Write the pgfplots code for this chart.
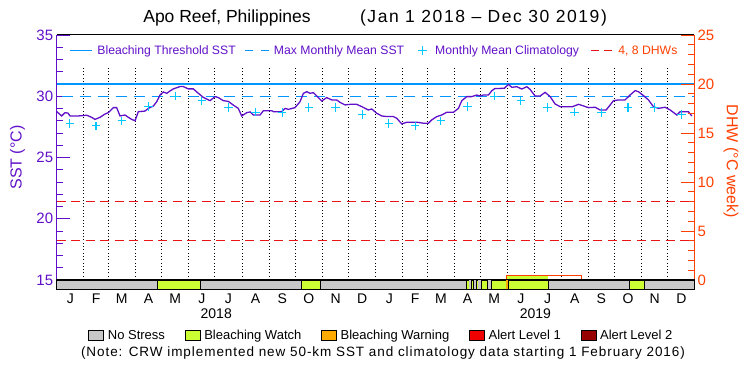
\documentclass[border=0pt]{standalone}
\usepackage{pgfplots}
\pgfplotsset{compat=1.18}
\usepackage{fontspec}
\setmainfont{Liberation Sans}
\definecolor{purp}{RGB}{96,16,200}
\definecolor{thr}{RGB}{0,150,255}
\definecolor{clim}{RGB}{0,200,255}
\definecolor{dhwred}{RGB}{235,20,20}
\definecolor{dhwc}{RGB}{255,64,0}
\definecolor{nostress}{RGB}{200,200,200}
\definecolor{watch}{RGB}{204,255,51}
\definecolor{warning}{RGB}{255,170,0}
\definecolor{alertone}{RGB}{240,0,0}
\definecolor{alerttwo}{RGB}{150,0,0}
\newcommand{\fs}[1]{\fontsize{#1}{#1}\selectfont}
\begin{document}
\begin{tikzpicture}[x=1pt,y=1pt]
\path[use as bounding box] (0,0) rectangle (750,375);
\node[anchor=center, inner sep=0pt, font=\fs{17.5}] at (227,357) {Apo Reef, Philippines};
\node[anchor=center, inner sep=0pt, font=\fs{17.5}\addfontfeature{LetterSpace=9}] at (483.5,357) {(Jan 1 2018 – Dec 30 2019)};
\node[anchor=center, inner sep=0pt, font=\fs{13.5}\addfontfeature{LetterSpace=7}] at (383,22) {(Note: CRW implemented new 50-km SST and climatology data starting 1 February 2016)};

% ---------------- main SST axis
\begin{axis}[
  at={(56.7pt,95pt)}, anchor=south west, scale only axis,
  width=637.3pt, height=245pt,
  xmin=0, xmax=729, ymin=15, ymax=35,
  xtick=\empty,
  ytick={15,20,25,30,35}, minor y tick num=4, ytick pos=left,
  tick align=inside, major tick length=13pt, minor tick length=6.5pt,
  separate axis lines,
  x axis line style={draw=black, line width=1pt},
  y axis line style={draw=purp, line width=1pt},
  ytick style={draw=purp, line width=0.9pt},
  minor y tick style={draw=purp, line width=0.9pt},
  yticklabel style={text=purp, font=\fs{15}},
  /pgf/number format/assume math mode=true,
  ylabel={SST (°C)},
  ylabel style={text=purp, font=\fs{16}, at={(axis description cs:-0.0615,0.5)}, anchor=center},
  legend columns=3, legend cell align=left,
  legend style={at={(axis description cs:0.0201,0.936)}, anchor=west, draw=none, fill=none,
    inner sep=0pt, font=\fs{12.2}, text=purp,
    /tikz/column 1/.style={column sep=3pt},
    /tikz/column 2/.style={column sep=7pt},
    /tikz/column 3/.style={column sep=2pt},
    /tikz/column 4/.style={column sep=11.8pt},
    /tikz/column 5/.style={column sep=5.8pt}},
]
\pgfplotsinvokeforeach{31,59,90,120,151,181,212,243,273,304,334,365,396,424,455,485,516,546,577,608,638,669,699}{
  \addplot[forget plot, black, line width=0.9pt, dash pattern=on 0.9pt off 2.4pt] coordinates {(#1,15) (#1,32.5)};
}
\addplot[forget plot, thr, line width=1.2pt] coordinates {(0,31) (729,31)};
\addplot[forget plot, thr, line width=1.2pt, dash pattern=on 11pt off 7pt, dash phase=-5pt] coordinates {(0,30) (729,30)};
\addplot[forget plot, only marks, mark=+, clim, mark size=4.2pt, line width=1.1pt] coordinates {
(15,27.76) (45,27.58) (74.5,28.0) (105,29.17) (135.5,30.0) (166,29.62) (196.5,29.07) (227.5,28.69) (258,28.66) (288.5,29.08) (319,29.07) (349.5,28.5)
(380,27.76) (410,27.58) (439.5,28.0) (470,29.17) (500.5,30.0) (531,29.62) (561.5,29.07) (592.5,28.69) (623,28.66) (653.5,29.08) (684,29.07) (714.5,28.5)
};
\addplot[forget plot, purp, line width=1.3pt] coordinates {
(0,28.75) (5.7,28.39) (9.5,28.66) (13,28.62) (15.2,28.39) (24.7,28.39) (34.3,28.45) (40,28.28) (43.8,28.11) (49.5,28.28) (55.3,28.55) (59,28.66) (64.8,29.07) (68.6,29.07) (72.4,28.39) (78.1,28.47) (82,28.28) (85.8,28.11) (89.6,28.00) (93.4,28.74) (101,28.79) (104.8,29.01) (110.5,29.20) (114.4,29.55) (118.2,30.10) (122,30.35) (125.9,30.24) (129.6,30.43) (133.4,30.60) (141,30.79) (144.8,30.79) (150.6,30.60) (156.3,30.60) (162,30.24) (167.7,29.91) (175.4,29.64) (181.1,29.97) (184.9,29.89) (190.6,29.64) (196.3,29.58) (202,29.28) (207.7,29.01) (211.6,28.39) (217.4,28.66) (221.2,28.72)
(225,28.47) (232.6,28.47) (236.4,28.82) (246,28.82) (248,28.74) (257.4,28.74) (261.2,29.01) (265,28.93) (272.6,29.07) (278.4,29.56) (282.2,30.24) (286,30.37) (289.8,30.24) (293.6,30.29) (297.5,30.02) (303.2,29.61) (308.9,29.89) (314.6,29.70) (320.3,29.70) (324.1,29.50) (329.9,29.29) (335.6,29.34) (343.2,29.34) (349,29.15) (356.5,28.88) (360.4,28.96) (366.1,28.61) (371.9,28.39) (377.6,28.34) (385.2,28.34) (389,28.20) (394.7,27.74) (400.5,27.88) (411.9,27.88) (419.5,27.80) (425.2,27.80) (429,28.07) (434.8,28.34) (440.5,28.47) (446.2,28.69) (453.8,28.69) (459.5,29.01) (463.4,29.64) (469.1,29.97) (474.8,29.97) (480.5,30.10) (484.3,30.02) (488.1,30.10) (493.8,30.10) (497.7,30.45) (501.5,30.64) (507.2,30.64)
(512,30.65) (516.7,30.97) (520.6,30.73) (526.3,30.78) (532,30.59) (537.8,30.78) (541.5,30.56) (547.2,30.02) (553,30.02) (558.7,30.32) (564.4,29.97) (570.1,29.37) (575.9,29.15) (583.5,29.15) (590,29.15) (597,29.34) (602.5,29.21) (608.2,29.07) (615.9,29.10) (621.6,28.88) (628.5,28.88) (633.1,29.29) (636.9,29.64) (642.6,29.70) (650.2,29.70) (655.9,30.10) (661.7,30.46) (665.5,30.37) (671.2,30.05) (676.9,29.70) (682.6,29.15) (688.3,29.01) (696,29.10) (701.7,28.88) (709.4,28.47) (713.2,28.74) (722.6,28.74) (726.5,28.39)
};
\addlegendimage{legend image code/.code={\draw[thr, line width=1.2pt] (0pt,0pt) -- (21.5pt,0pt);}}
\addlegendentry{Bleaching Threshold SST}
\addlegendimage{legend image code/.code={\draw[thr, line width=1.2pt, dash pattern=on 8pt off 8pt] (0pt,0pt) -- (24pt,0pt);}}
\addlegendentry{Max Monthly Mean SST}
\addlegendimage{legend image code/.code={\draw[clim, line width=1.1pt] (-4.2pt,0pt) -- (4.2pt,0pt) (0pt,-4.2pt) -- (0pt,4.2pt);}}
\addlegendentry{Monthly Mean Climatology}
\end{axis}

% ---------------- DHW axis
\begin{axis}[
  at={(56.7pt,95pt)}, anchor=south west, scale only axis,
  width=637.3pt, height=245pt,
  xmin=0, xmax=729, ymin=0, ymax=25,
  axis x line=none, axis y line*=right,
  ytick={0,5,10,15,20,25}, minor y tick num=4,
  tick align=inside, major tick length=13pt, minor tick length=6pt,
  y axis line style={draw=dhwc, line width=1pt},
  ytick style={draw=dhwc, line width=0.9pt},
  minor y tick style={draw=dhwc, line width=0.9pt},
  yticklabel style={text=dhwc, font=\fs{15}},
  /pgf/number format/assume math mode=true,
  ylabel={DHW (°C week)},
  ylabel style={text=dhwc, font=\fs{16}, rotate=180, at={(axis description cs:1.058,0.484)}, anchor=center},
  legend cell align=left,
  legend style={at={(axis description cs:0.8368,0.936)}, anchor=west, draw=none, fill=none,
    inner sep=0pt, font=\fs{12.2}, text=dhwc,
    /tikz/column 1/.style={column sep=4pt}},
]
\addplot[forget plot, dhwred, line width=1.1pt, dash pattern=on 9pt off 5.5pt] coordinates {(0,4) (729,4)};
\addplot[forget plot, dhwred, line width=1.1pt, dash pattern=on 9pt off 5.5pt] coordinates {(0,8) (729,8)};
\addplot[forget plot, fill=watch, draw=none] coordinates {(514.1,0.48) (562.5,0.48)} \closedcycle;
\addplot[forget plot, dhwc, line width=1pt] coordinates {(514.1,0) (514.1,0.48) (600.4,0.48) (600.4,0)};
\addlegendimage{legend image code/.code={\draw[dhwred, line width=1.2pt, dash pattern=on 8pt off 5pt] (0pt,0pt) -- (21pt,0pt);}}
\addlegendentry{4, 8 DHWs}
\end{axis}

% ---------------- stress bar axis
\begin{axis}[
  at={(56.7pt,85pt)}, anchor=south west, scale only axis,
  width=637.3pt, height=10pt,
  xmin=0, xmax=729, ymin=0, ymax=1,
  ytick=\empty,
  xtick={15.5,45,74.5,105,135.5,166,196.5,227.5,258,288.5,319,349.5,380.5,410,439.5,470,500.5,531,561.5,592.5,623,653.5,684,714.5},
  xticklabels={J,F,M,A,M,J,J,A,S,O,N,D,J,F,M,A,M,J,J,A,S,O,N,D},
  major tick length=0pt,
  xticklabel style={font=\fs{14}},
  extra x ticks={182.5,547.5},
  extra x tick labels={2018,2019},
  extra x tick style={major tick length=0pt, tick label style={yshift=-15pt, font=\fs{14}}},
  axis line style={draw=black, line width=1pt},
  axis on top,
  legend columns=5, legend cell align=left,
  legend style={at={(axis description cs:0.0493,-4.57)}, anchor=west, draw=none, fill=none,
    inner sep=0pt, font=\fs{13},
    /tikz/column 1/.style={column sep=2pt},
    /tikz/column 2/.style={column sep=17.7pt},
    /tikz/column 3/.style={column sep=2pt},
    /tikz/column 4/.style={column sep=17.7pt},
    /tikz/column 5/.style={column sep=2pt},
    /tikz/column 6/.style={column sep=17.7pt},
    /tikz/column 7/.style={column sep=2pt},
    /tikz/column 8/.style={column sep=17.7pt},
    /tikz/column 9/.style={column sep=2pt}},
]
\addplot[forget plot, fill=nostress, draw=black, line width=0.6pt] coordinates {(0,1) (115.1,1)} \closedcycle;
\addplot[forget plot, fill=watch, draw=black, line width=0.6pt] coordinates {(115.1,1) (164.3,1)} \closedcycle;
\addplot[forget plot, fill=nostress, draw=black, line width=0.6pt] coordinates {(164.3,1) (279.9,1)} \closedcycle;
\addplot[forget plot, fill=watch, draw=black, line width=0.6pt] coordinates {(279.9,1) (301.6,1)} \closedcycle;
\addplot[forget plot, fill=nostress, draw=black, line width=0.6pt] coordinates {(301.6,1) (468.6,1)} \closedcycle;
\addplot[forget plot, fill=watch, draw=black, line width=0.4pt] coordinates {(468.6,1) (472.1,1)} \closedcycle;
\addplot[forget plot, fill=nostress, draw=none] coordinates {(472.1,1) (474.6,1)} \closedcycle;
\addplot[forget plot, fill=watch, draw=black, line width=0.4pt] coordinates {(474.6,1) (476.9,1)} \closedcycle;
\addplot[forget plot, fill=nostress, draw=none] coordinates {(476.9,1) (480.1,1)} \closedcycle;
\addplot[forget plot, fill=watch, draw=black, line width=0.4pt] coordinates {(480.1,1) (481.8,1)} \closedcycle;
\addplot[forget plot, fill=nostress, draw=none] coordinates {(481.8,1) (485.5,1)} \closedcycle;
\addplot[forget plot, fill=watch, draw=black, line width=0.4pt] coordinates {(485.5,1) (492.9,1)} \closedcycle;
\addplot[forget plot, fill=nostress, draw=none] coordinates {(492.9,1) (497.1,1)} \closedcycle;
\addplot[forget plot, fill=watch, draw=black, line width=0.6pt] coordinates {(497.1,1) (514.1,1)} \closedcycle;
\addplot[forget plot, fill=warning, draw=none] coordinates {(514.1,1) (516.9,1)} \closedcycle;
\addplot[forget plot, fill=watch, draw=black, line width=0.6pt] coordinates {(516.9,1) (562.5,1)} \closedcycle;
\addplot[forget plot, fill=nostress, draw=black, line width=0.6pt] coordinates {(562.5,1) (654.5,1)} \closedcycle;
\addplot[forget plot, fill=watch, draw=black, line width=0.6pt] coordinates {(654.5,1) (672.3,1)} \closedcycle;
\addplot[forget plot, fill=nostress, draw=black, line width=0.6pt] coordinates {(672.3,1) (729,1)} \closedcycle;
\addlegendimage{legend image code/.code={\draw[fill=nostress, draw=black, line width=0.6pt] (0pt,-5pt) rectangle (15pt,5pt);}}
\addlegendentry{No Stress}
\addlegendimage{legend image code/.code={\draw[fill=watch, draw=black, line width=0.6pt] (0pt,-5pt) rectangle (15pt,5pt);}}
\addlegendentry{Bleaching Watch}
\addlegendimage{legend image code/.code={\draw[fill=warning, draw=black, line width=0.6pt] (0pt,-5pt) rectangle (15pt,5pt);}}
\addlegendentry{Bleaching Warning}
\addlegendimage{legend image code/.code={\draw[fill=alertone, draw=black, line width=0.6pt] (0pt,-5pt) rectangle (15pt,5pt);}}
\addlegendentry{Alert Level 1}
\addlegendimage{legend image code/.code={\draw[fill=alerttwo, draw=black, line width=0.6pt] (0pt,-5pt) rectangle (15pt,5pt);}}
\addlegendentry{Alert Level 2}
\end{axis}
\end{tikzpicture}
\end{document}
